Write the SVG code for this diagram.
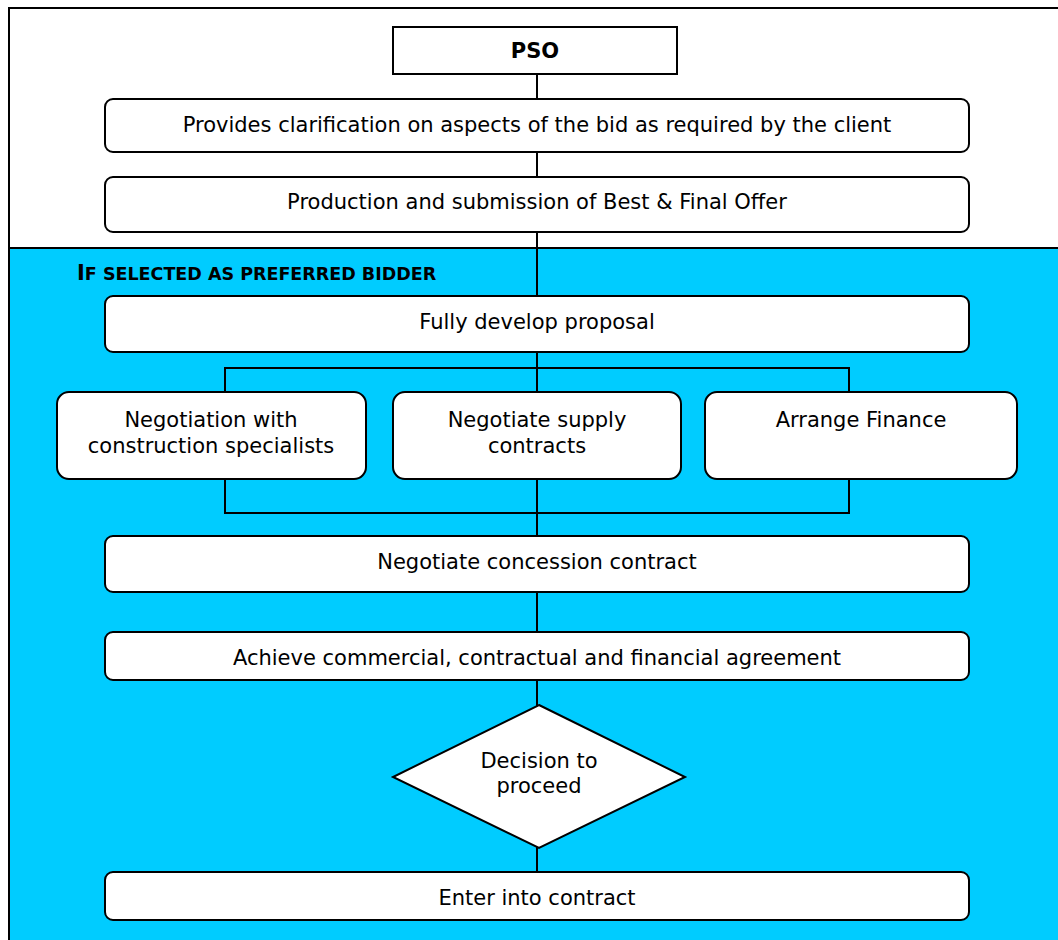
<svg xmlns="http://www.w3.org/2000/svg" width="1058" height="940" viewBox="0 0 1058 940">
<defs>
<style>
.box{fill:#fff;stroke:#000;stroke-width:2}
.ln{fill:none;stroke:#000;stroke-width:2}
text{font-family:"DejaVu Sans","Verdana",sans-serif;font-size:21px;fill:#000;text-anchor:middle}
.hd{font-weight:bold;text-anchor:start;font-size:17.5px}
</style>
</defs>
<rect x="0" y="0" width="1058" height="940" fill="#fff"/>
<rect x="9" y="248" width="1060" height="700" fill="#00CCFF"/>
<path class="ln" d="M9,948 V8 H1060 M9,248 H1060"/>
<text class="hd" x="77" y="280"><tspan font-size="21">I</tspan>F SELECTED AS PREFERRED BIDDER</text>
<g id="connectors">
<path class="ln" d="M537,74 V872"/>
<path class="ln" d="M225,392 V368 H849 V392"/>
<path class="ln" d="M225,479 V513 H849 V479"/>
</g>
<g id="pso"><rect class="box" x="393" y="27" width="284" height="47"/><text x="535" y="58" font-weight="bold" font-size="23">PSO</text></g>
<g id="clarify"><rect class="box" x="105" y="99" width="864" height="53" rx="8"/><text x="537" y="132">Provides clarification on aspects of the bid as required by the client</text></g>
<g id="bafo"><rect class="box" x="105" y="177" width="864" height="55" rx="8"/><text x="537" y="209">Production and submission of Best &amp; Final Offer</text></g>
<g id="develop"><rect class="box" x="105" y="296" width="864" height="56" rx="8"/><text x="537" y="329">Fully develop proposal</text></g>
<g id="construction"><rect class="box" x="57" y="392" width="309" height="87" rx="12"/><text x="211" y="427">Negotiation with</text><text x="211" y="453">construction specialists</text></g>
<g id="supply"><rect class="box" x="393" y="392" width="288" height="87" rx="12"/><text x="537" y="427">Negotiate supply</text><text x="537" y="453">contracts</text></g>
<g id="finance"><rect class="box" x="705" y="392" width="312" height="87" rx="12"/><text x="861" y="427">Arrange Finance</text></g>
<g id="concession"><rect class="box" x="105" y="536" width="864" height="56" rx="8"/><text x="537" y="569">Negotiate concession contract</text></g>
<g id="agreement"><rect class="box" x="105" y="632" width="864" height="48" rx="8"/><text x="537" y="665">Achieve commercial, contractual and financial agreement</text></g>
<g id="decision"><polygon class="box" points="539,705 685,777 539,848 393,777"/><text x="539" y="768">Decision to</text><text x="539" y="793">proceed</text></g>
<g id="contract"><rect class="box" x="105" y="872" width="864" height="48" rx="8"/><text x="537" y="905">Enter into contract</text></g>
</svg>
